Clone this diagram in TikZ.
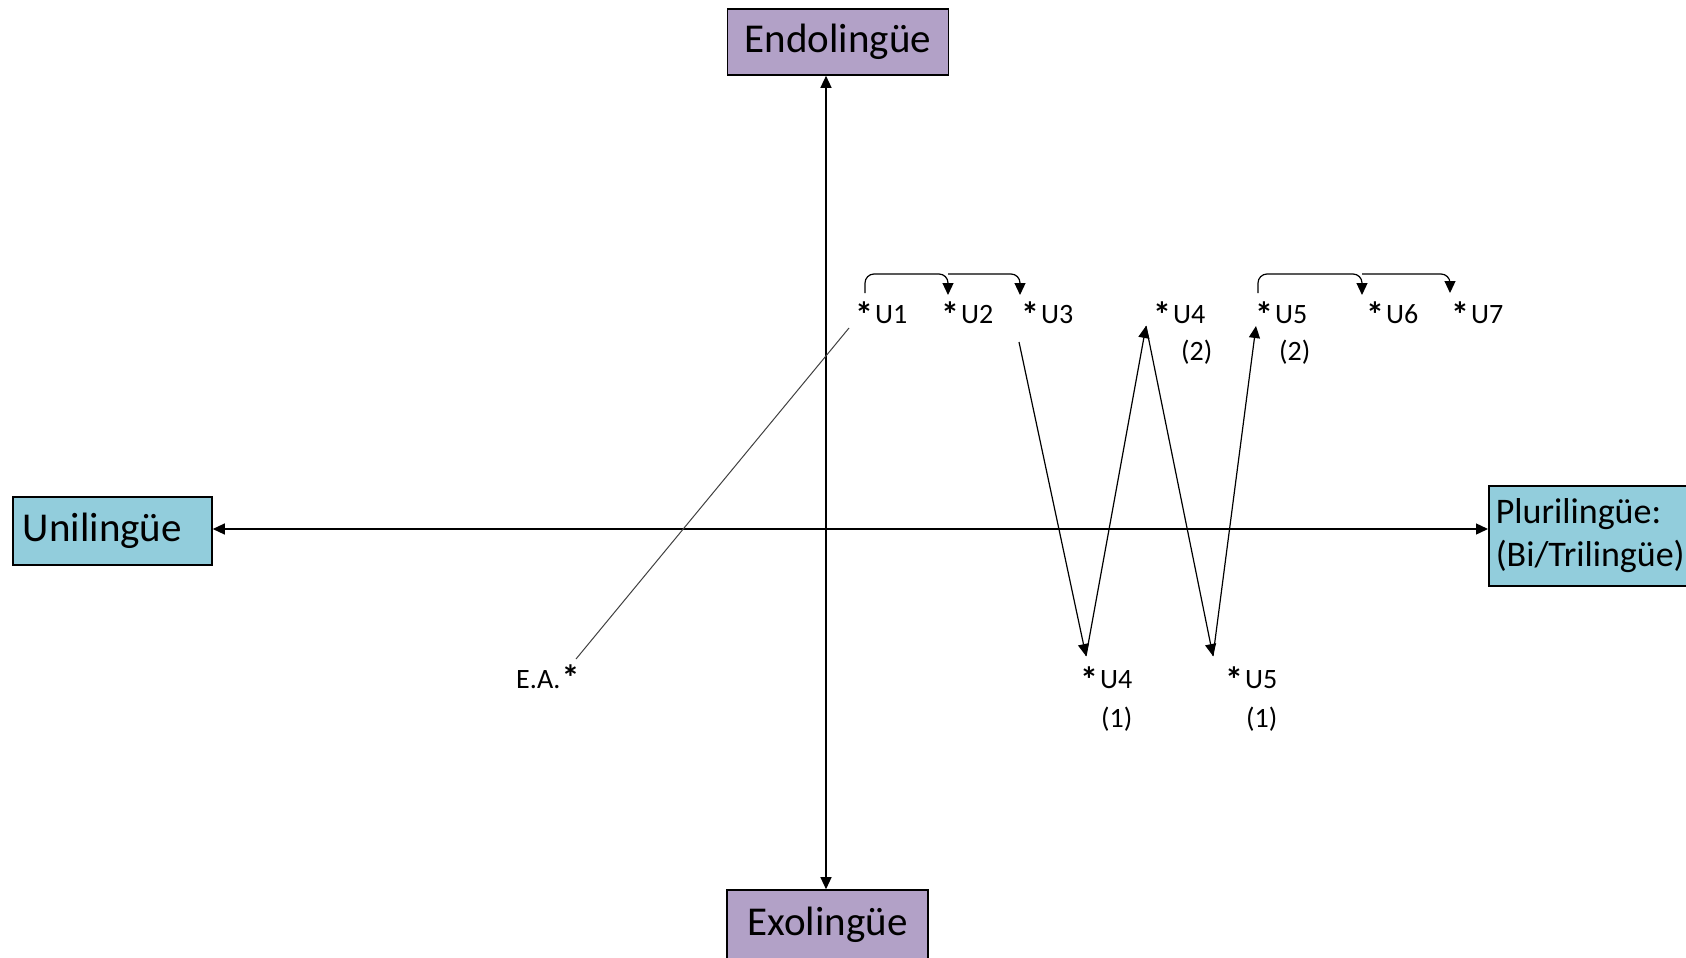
\documentclass[tikz,border=0pt]{standalone}
\usepackage{fontspec}
\setmainfont{Carlito}
\usetikzlibrary{arrows.meta}
\definecolor{boxpurple}{HTML}{B2A1C7}
\definecolor{boxaqua}{HTML}{92CDDC}
\tikzset{
  bigbox/.style={draw=black, line width=1.6pt, inner sep=0pt, font=\fontsize{41}{46}\selectfont},
  lab/.style={font=\fontsize{28}{32}\selectfont, inner sep=0pt, anchor=base west},
  axis/.style={line width=1.3pt, {Triangle[length=12pt,width=11pt]}-{Triangle[length=12pt,width=11pt]}},
  conn/.style={line width=1.2pt, -{Triangle[length=12pt,width=11pt]}},
  thinline/.style={line width=1pt, draw=black!75},
}
\newcommand{\bigstar}{{\fontsize{36}{38}\selectfont\bfseries\raisebox{-4pt}{*}}}
\newcommand{\lbl}[1]{\bigstar\kern2pt #1}
\begin{document}
\begin{tikzpicture}[x=1pt,y=-1pt]
\useasboundingbox (0,0) rectangle (1686,958);
% boxes
\node[bigbox, fill=boxpurple, minimum width=221pt, minimum height=66pt] (endo) at (838,42) {Endolingüe};
\node[bigbox, fill=boxpurple, minimum width=201pt, minimum height=70pt] (exo) at (827.5,925) {Exolingüe};
\node[bigbox, fill=boxaqua, minimum width=199pt, minimum height=68pt, text width=179pt, align=left, inner xsep=10pt] (uni) at (112.5,531) {Unilingüe};
\node[bigbox, fill=boxaqua, minimum height=100pt, text width=200pt, align=left, inner xsep=7pt, anchor=north west,
  font=\fontsize{36}{43}\selectfont] (pluri) at (1488,485) {Plurilingüe:\\(Bi/Trilingüe)};
% axis helpers
\coordinate (vx) at (826,0);
\coordinate (hy) at (0,529);
\draw[axis] (endo.south -| vx) -- (exo.north -| vx);
\draw[axis] (uni.east |- hy) -- (pluri.west |- hy);
% labels
\node[lab] (u1) at (855,323) {\lbl{U1}};
\node[lab] (u2) at (941,323) {\lbl{U2}};
\node[lab] (u3) at (1021,323) {\lbl{U3}};
\node[lab] (u4b) at (1153,323) {\lbl{U4}};
\node[lab] (u4bn) at (1181,360) {(2)};
\node[lab] (u5b) at (1255,323) {\lbl{U5}};
\node[lab] (u5bn) at (1279,360) {(2)};
\node[lab] (u6) at (1366,323) {\lbl{U6}};
\node[lab] (u7) at (1451,323) {\lbl{U7}};
\node[lab] (u4a) at (1080,688) {\lbl{U4}};
\node[lab] (u4an) at (1101,727) {(1)};
\node[lab] (u5a) at (1225,688) {\lbl{U5}};
\node[lab] (u5an) at (1246,727) {(1)};
\node[lab] (ea) at (516,688) {E.A.\kern1pt\raisebox{2pt}{\bigstar}};
% connector points
\coordinate (c1) at (865,293);
\coordinate (c2) at (948,295);
\coordinate (c3) at (1020,295);
\coordinate (top1) at (0,274);
\coordinate (c5) at (1258,293);
\coordinate (c6) at (1362,295);
\coordinate (c7) at (1450,293);
\coordinate (z0) at (1019,342);
\coordinate (z1) at (1086,656);
\coordinate (z2) at (1146,326);
\coordinate (z3) at (1213,656);
\coordinate (z4) at (1256,326);
\coordinate (ea1) at (576,659);
\coordinate (ea2) at (849,328);
% bracket connectors
\draw[conn, rounded corners=9pt] (c1) |- (top1 -| c2) -- (c2);
\draw[conn, rounded corners=9pt] (top1 -| c2) -- (top1 -| c3) -- (c3);
\draw[conn, rounded corners=9pt] (c5) |- (top1 -| c6) -- (c6);
\draw[conn, rounded corners=9pt] (top1 -| c6) -- (top1 -| c7) -- (c7);
% zigzag
\draw[conn] (z0) -- (z1);
\draw[conn] (z1) -- (z2);
\draw[conn] (z2) -- (z3);
\draw[conn] (z3) -- (z4);
% E.A. line
\draw[thinline] (ea1) -- (ea2);
\end{tikzpicture}
\end{document}
